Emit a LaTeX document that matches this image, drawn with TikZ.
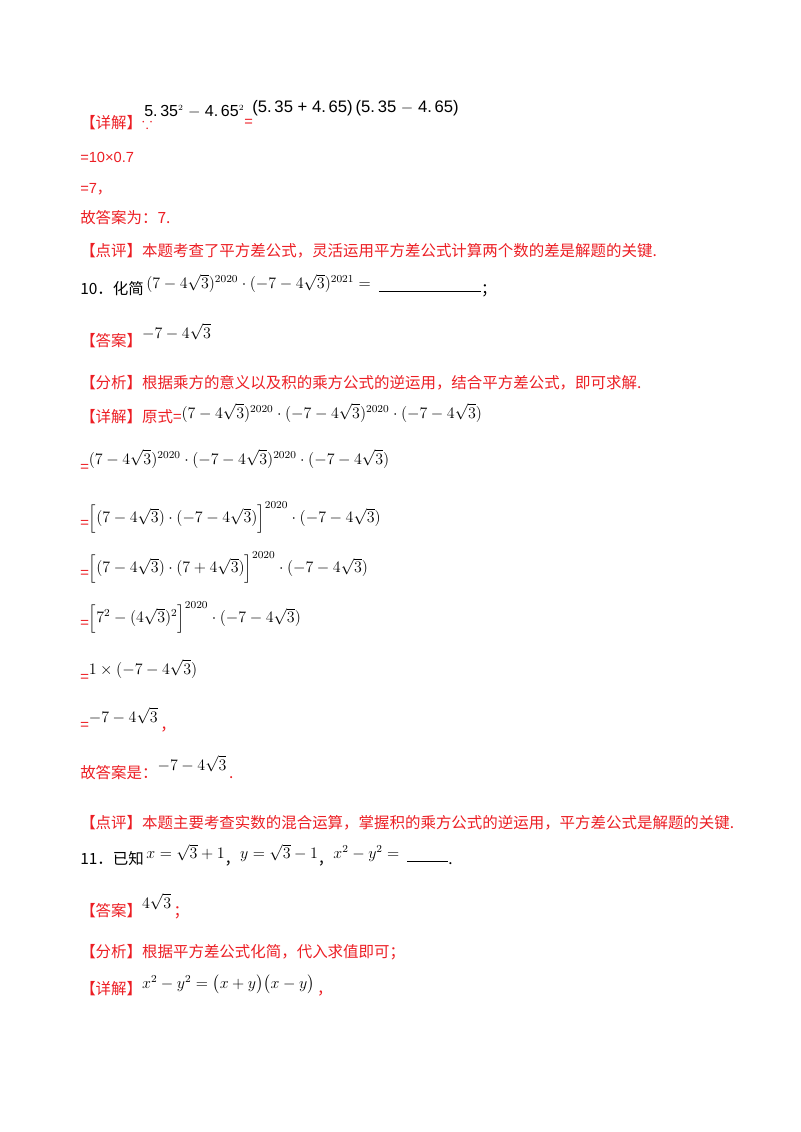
\documentclass[tikz,border=0pt]{standalone}
\usepackage{xcolor}
\usepackage{amsmath,amssymb}
\usepackage{fontspec}
\newfontfamily\cjk{Noto Sans CJK SC}
\newfontfamily\sanfont{Liberation Sans}
\definecolor{hong}{RGB}{236,30,36}
\newcommand{\mth}[2][6pt]{\textcolor{black}{\raisebox{#1}{\fontsize{11.8}{14}\selectfont$#2$}}}
\begin{document}
\begin{tikzpicture}[
		x=0.75pt, y=-0.75pt,
		line/.style={anchor=base west, inner sep=0pt, font=\cjk\fontsize{11.6}{13}\selectfont},
		red/.style={line, text=hong},
		num/.style={line, font=\sanfont\fontsize{11}{13}\selectfont, text=hong}
	]
		\useasboundingbox (0,0) rectangle (800,1132);
		
		% Problem 9 (end)
		\node[red] (d9) at (80,128) {【详解】$\because$};
		\node[line, font=\sanfont\fontsize{12}{14}\selectfont, text=black] (f9a) at (144,116) {5.\,35$^{\scriptscriptstyle 2}$ $-$ 4.\,65$^{\scriptscriptstyle 2}$};
		\node[num] (f9b) at (244,126) {=};
		\node[line, font=\sanfont\fontsize{12.5}{14}\selectfont, text=black] (f9c) at (252,112) {(5.\,35 + 4.\,65)\,(5.\,35 $-$ 4.\,65)};
		\node[num] (s1) at (80,162) {=10×0.7};
		\node[num] (s2) at (80,193) {=7{\cjk，}};
		\node[red] (g9) at (80,223) {故答案为：7.};
		\node[red] (p9) at (80,256) {【点评】本题考查了平方差公式，灵活运用平方差公式计算两个数的差是解题的关键.};
		
		% Problem 10
		\node[line] (q10) at (80,294) {10．化简\,\mth[4pt]{(7-4\sqrt3)^{2020}\cdot(-7-4\sqrt3)^{2021}=\text{ }\underline{\hspace{6.5em}}}；};
		\node[red] (a10) at (80,346) {【答案】\mth{-7-4\sqrt3}};
		\node[red] (f10) at (80,388) {【分析】根据乘方的意义以及积的乘方公式的逆运用，结合平方差公式，即可求解.};
		\node[red] (d10) at (80,422) {【详解】原式=\mth[3pt]{(7-4\sqrt3)^{2020}\cdot(-7-4\sqrt3)^{2020}\cdot(-7-4\sqrt3)}};
		\node[red] (e1) at (80,472) {=\mth{(7-4\sqrt3)^{2020}\cdot(-7-4\sqrt3)^{2020}\cdot(-7-4\sqrt3)}};
		\node[red] (e2) at (80,528) {=\mth[4pt]{\Big[(7-4\sqrt3)\cdot(-7-4\sqrt3)\Big]^{2020}\cdot(-7-4\sqrt3)}};
		\node[red] (e3) at (80,578) {=\mth[4pt]{\Big[(7-4\sqrt3)\cdot(7+4\sqrt3)\Big]^{2020}\cdot(-7-4\sqrt3)}};
		\node[red] (e4) at (80,628) {=\mth[4pt]{\Big[7^2-(4\sqrt3)^2\Big]^{2020}\cdot(-7-4\sqrt3)}};
		\node[red] (e5) at (80,682) {=\mth{1\times(-7-4\sqrt3)}};
		\node[red] (e6) at (80,730) {=\mth{-7-4\sqrt3}\,，};
		\node[red] (g10) at (80,778) {故答案是：\mth{-7-4\sqrt3}\,.};
		\node[red] (p10) at (80,828) {【点评】本题主要考查实数的混合运算，掌握积的乘方公式的逆运用，平方差公式是解题的关键.};
		
		% Problem 11
		\node[line] (q11) at (80,864) {11．已知\,\mth[4pt]{x=\sqrt3+1}，\mth[4pt]{y=\sqrt3-1}，\mth[4pt]{x^2-y^2=\text{ }\underline{\hspace{2.6em}}}.};
		\node[red] (a11) at (80,916) {【答案】\mth{4\sqrt3}\,；};
		\node[red] (f11) at (80,957) {【分析】根据平方差公式化简，代入求值即可；};
		\node[red] (d11) at (80,994) {【详解】\mth[4pt]{x^2-y^2=\big(x+y\big)\big(x-y\big)}\,，};
	\end{tikzpicture}
\end{document}
